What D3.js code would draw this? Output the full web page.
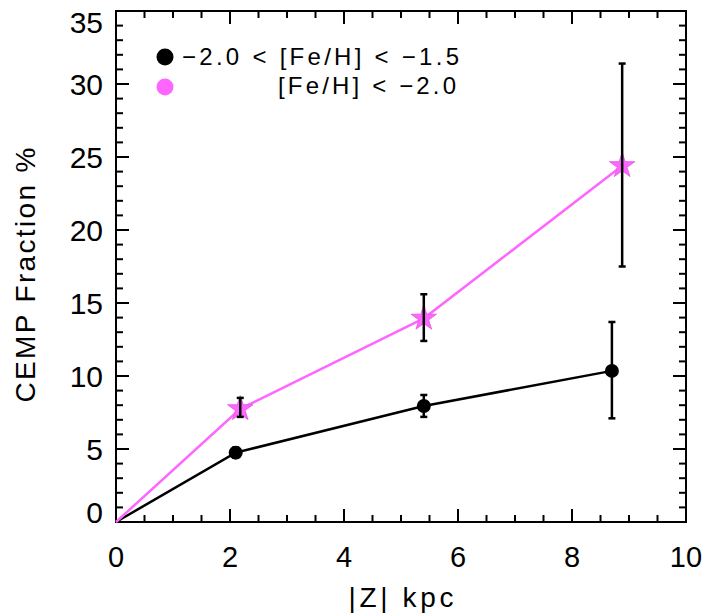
<!DOCTYPE html>
<html>
<head>
<meta charset="utf-8">
<script src="https://cdn.jsdelivr.net/npm/d3@7"></script>
<style>
  body { margin: 0; background: #fff; }
  text { font-family: "Liberation Sans", sans-serif; }
</style>
</head>
<body>
<div id="chart"></div>
<script>
// data
const zMetalPoor = [0, 2.1, 5.4, 8.7];
const fracMetalPoor = [0, 4.75, 7.95, 10.35];
const errLoMetalPoor = [null, 4.4, 7.2, 7.1];
const errHiMetalPoor = [null, 5.1, 8.7, 13.7];

const zVeryPoor = [0, 2.18, 5.4, 8.88];
const fracVeryPoor = [0, 7.75, 13.95, 24.4];
const errLoVeryPoor = [null, 7.2, 12.4, 17.5];
const errHiVeryPoor = [null, 8.5, 15.6, 31.4];

const xTicks = [0, 2, 4, 6, 8, 10];
const yTicks = [0, 5, 10, 15, 20, 25, 30, 35];
const legendLabels = ["\u22122.0 < [Fe/H] < \u22121.5", "[Fe/H] < \u22122.0"];

const width = 704, height = 616;
const margin = {left: 116, right: 18, top: 11, bottom: 94};
const MAGENTA = "#ff66ff";

const svg = d3.select("#chart").append("svg")
    .attr("width", width)
    .attr("height", height);

const x = d3.scaleLinear().domain([0, 10]).range([margin.left, width - margin.right]);
const y = d3.scaleLinear().domain([0, 35]).range([height - margin.bottom, margin.top]);

// ticks on all four sides, IDL style
const minorX = d3.range(0, 10.01, 0.5);
const minorY = d3.range(0, 35.01, 1);
const axisGroup = svg.append("g").attr("stroke", "#000").attr("stroke-width", 2);

function tickLen(v, step) { return Math.abs(v / step - Math.round(v / step)) < 1e-6 ? 13 : 7; }

minorX.forEach(v => {
  const len = tickLen(v, 2);
  axisGroup.append("line").attr("x1", x(v)).attr("x2", x(v))
    .attr("y1", y(0)).attr("y2", y(0) - len);
  axisGroup.append("line").attr("x1", x(v)).attr("x2", x(v))
    .attr("y1", y(35)).attr("y2", y(35) + len);
});
minorY.forEach(v => {
  const len = tickLen(v, 5);
  axisGroup.append("line").attr("x1", x(0)).attr("x2", x(0) + len)
    .attr("y1", y(v)).attr("y2", y(v));
  axisGroup.append("line").attr("x1", x(10)).attr("x2", x(10) - len)
    .attr("y1", y(v)).attr("y2", y(v));
});
axisGroup.append("rect")
  .attr("x", x(0)).attr("y", y(35))
  .attr("width", x(10) - x(0)).attr("height", y(0) - y(35))
  .attr("fill", "none");

// tick labels (end labels kept inside the frame height, as in the reference)
svg.append("g").selectAll("text").data(xTicks).join("text")
  .attr("x", d => x(d)).attr("y", y(0) + 45)
  .attr("text-anchor", "middle")
  .attr("font-size", 29)
  .text(d => d);
svg.append("g").selectAll("text").data(yTicks).join("text")
  .attr("x", x(0) - 13)
  .attr("y", d => Math.min(Math.max(y(d), y(35) + 10.5), y(0) - 10) + 11)
  .attr("text-anchor", "end")
  .attr("font-size", 30)
  .text(d => d);

// axis titles
svg.append("text")
  .attr("x", x(5)).attr("y", 607)
  .attr("text-anchor", "middle")
  .attr("font-size", 28)
  .attr("textLength", 105)
  .text("|Z| kpc");
svg.append("text")
  .attr("transform", `translate(35, 275) rotate(-90)`)
  .attr("text-anchor", "middle")
  .attr("font-size", 28)
  .attr("textLength", 255)
  .text("CEMP Fraction %");

const line = d3.line().x(d => x(d[0])).y(d => y(d[1]));
const plot = svg.append("g");

// connecting lines
plot.append("path")
  .datum(d3.zip(zMetalPoor, fracMetalPoor))
  .attr("d", line).attr("fill", "none")
  .attr("stroke", "#000").attr("stroke-width", 2.5);
plot.append("path")
  .datum(d3.zip(zVeryPoor, fracVeryPoor))
  .attr("d", line).attr("fill", "none")
  .attr("stroke", MAGENTA).attr("stroke-width", 2.5);

// markers (skip the origin)
plot.selectAll(".dot").data(d3.zip(zMetalPoor, fracMetalPoor).slice(1)).join("circle")
  .attr("class", "dot")
  .attr("cx", d => x(d[0])).attr("cy", d => y(d[1]))
  .attr("r", 7).attr("fill", "#000");

const star = d3.symbol().type(d3.symbolStar).size(200);
plot.selectAll(".star").data(d3.zip(zVeryPoor, fracVeryPoor).slice(1)).join("path")
  .attr("class", "star")
  .attr("transform", d => `translate(${x(d[0])},${y(d[1])})`)
  .attr("d", star)
  .attr("fill", MAGENTA)
  .attr("stroke", "#e055e0").attr("stroke-width", 0.8);

// error bars
function errorBars(zs, lo, hi) {
  const rows = zs.map((z, i) => ({z, lo: lo[i], hi: hi[i]})).filter(d => d.lo != null);
  const g = plot.append("g").attr("stroke", "#000").attr("stroke-width", 2.5);
  rows.forEach(d => {
    g.append("line").attr("x1", x(d.z)).attr("x2", x(d.z)).attr("y1", y(d.lo)).attr("y2", y(d.hi));
    [d.lo, d.hi].forEach(v => {
      g.append("line").attr("x1", x(d.z) - 3.5).attr("x2", x(d.z) + 3.5).attr("y1", y(v)).attr("y2", y(v));
    });
  });
}
errorBars(zMetalPoor, errLoMetalPoor, errHiMetalPoor);
errorBars(zVeryPoor, errLoVeryPoor, errHiVeryPoor);

// legend
const legend = svg.append("g");
legend.append("circle").attr("cx", 165).attr("cy", 57).attr("r", 8.5).attr("fill", "#000");
legend.append("circle").attr("cx", 165).attr("cy", 87).attr("r", 8.5).attr("fill", MAGENTA);
legend.append("text").attr("x", 182).attr("y", 65)
  .attr("font-size", 24).attr("textLength", 277).text(legendLabels[0]);
legend.append("text").attr("x", 278).attr("y", 94)
  .attr("font-size", 24).attr("textLength", 178).text(legendLabels[1]);
</script>
</body>
</html>
